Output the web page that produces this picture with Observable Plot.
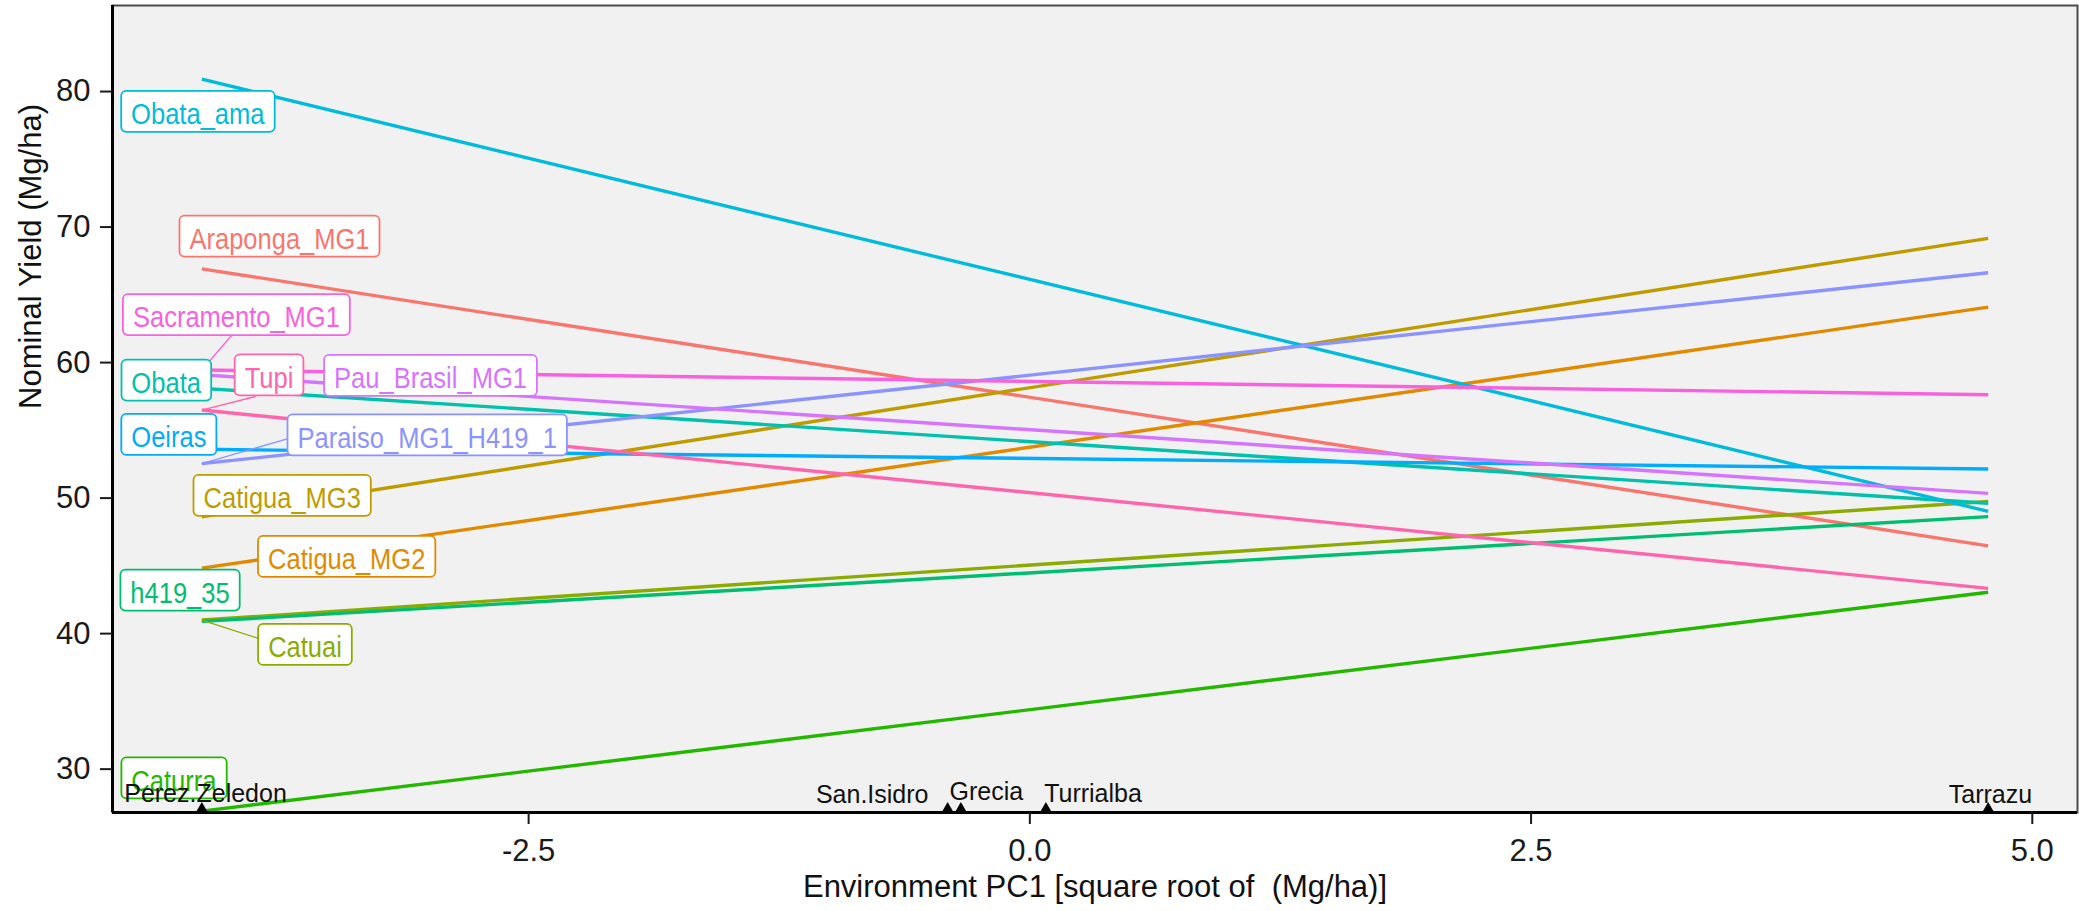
<!DOCTYPE html>
<html>
<head>
<meta charset="utf-8">
<script src="https://cdn.jsdelivr.net/npm/d3@7"></script>
<script src="https://cdn.jsdelivr.net/npm/@observablehq/plot@0.6"></script>
<style>
html, body { margin: 0; padding: 0; background: #fff; overflow: hidden; }
svg { display: block; }
svg text { white-space: pre; }
</style>
</head>
<body>
<script>
// ---------------- data ----------------
const genotypes = ["Araponga_MG1", "Catigua_MG2", "Catigua_MG3", "Catuai", "Caturra", "h419_35", "Obata",
  "Obata_ama", "Oeiras", "Paraiso_MG1_H419_1", "Pau_Brasil_MG1", "Sacramento_MG1", "Tupi"];
const colors = ["#F8766D", "#E18A00", "#BE9C00", "#8CAB00", "#24B700", "#00BE70", "#00C1AB",
  "#00BBDA", "#00ACFC", "#8B93FF", "#D575FE", "#F962DD", "#FF65AC"];
// nominal yield at the two extreme environments (Perez.Zeledon = lowest PC1, Tarrazu = highest PC1)
const yieldAtPerezZeledon = [66.92, 44.83, 48.62, 41.0, 26.9, 40.9, 58.1, 80.92, 53.6, 52.54, 59.1, 59.45, 56.5];
const yieldAtTarrazu      = [46.47, 64.09, 69.17, 49.75, 43.05, 48.63, 49.62, 49.02, 52.15, 66.63, 50.35, 57.63, 43.34];
const environments = ["Perez.Zeledon", "San.Isidro", "Grecia", "Turrialba", "Tarrazu"];
const envPC1 = [-4.13, -0.41, -0.344, 0.08, 4.78];
const xTicks = [-2.5, 0, 2.5, 5];
const yTicks = [30, 40, 50, 60, 70, 80];
const xTitle = "Environment PC1 [square root of  (Mg/ha)]";
const yTitle = "Nominal Yield (Mg/ha)";

// ---------------- layout (pixels) ----------------
const W = 2079, H = 911;
const mL = 112, mR = 2, mT = 5, mB = 99;
const xDomain = [-4.5755, 5.2255];
const yDomain = [26.8, 86.35];
const px2x = d3.scaleLinear([mL, W - mR], xDomain);
const px2y = d3.scaleLinear([H - mB, mT], yDomain);
// centre of each repelled label box, in genotype order
const labelBoxPx = [[279, 235.8], [346.2, 556], [281.7, 494.9], [304.5, 644], [173.4, 777.5], [179.5, 589.7],
  [165.7, 379.7], [197.3, 110.9], [168.4, 434], [426.7, 434.5], [430, 375], [235.9, 314.2], [268.5, 374.5]];
// leader segments end points (others are too short to be drawn)
const leaderEndPx = {"Sacramento_MG1": [232, 334], "Tupi": [255, 396], "Paraiso_MG1_H419_1": [286.7, 438.3], "Catuai": [259.3, 638.3]};
// environment label centres
const envLabelPx = [[205, 793], [871.7, 794.7], [985.8, 791.3], [1092.5, 793.7], [1990, 794]];

// ---------------- tables ----------------
const lineRows = genotypes.flatMap((g, i) => [
  {genotype: g, pc1: envPC1[0], yield: yieldAtPerezZeledon[i]},
  {genotype: g, pc1: envPC1[envPC1.length - 1], yield: yieldAtTarrazu[i]}
]);
const labelRows = genotypes.map((g, i) => ({genotype: g, x: px2x(labelBoxPx[i][0]), y: px2y(labelBoxPx[i][1] + 3.1)}));
const leaderRows = genotypes.map((g, i) => ({genotype: g, i})).filter(d => leaderEndPx[d.genotype]).map(d => ({
  genotype: d.genotype, x1: envPC1[0], y1: yieldAtPerezZeledon[d.i],
  x2: px2x(leaderEndPx[d.genotype][0]), y2: px2y(leaderEndPx[d.genotype][1])
}));
const envRows = environments.map((e, i) => ({env: e, pc1: envPC1[i], lx: px2x(envLabelPx[i][0]), ly: px2y(envLabelPx[i][1])}));

const chart = Plot.plot({
  width: W, height: H,
  marginLeft: mL, marginRight: mR, marginTop: mT, marginBottom: mB,
  style: {fontFamily: "'Liberation Sans', Arial, sans-serif", background: "#fff", overflow: "visible"},
  x: {domain: xDomain},
  y: {domain: yDomain},
  color: {domain: genotypes, range: colors},
  marks: [
    Plot.frame({fill: "#F1F1F1"}),
    Plot.line(lineRows, {x: "pc1", y: "yield", z: "genotype", stroke: "genotype", strokeWidth: 3.4, strokeLinecap: "butt"}),
    Plot.link(leaderRows, {x1: "x1", y1: "y1", x2: "x2", y2: "y2", stroke: "genotype", strokeWidth: 1.3}),
    Plot.text(labelRows, {x: "x", y: "y", text: "genotype", fill: "genotype", fontSize: 30, ariaDescription: "genotype labels"}),
    Plot.dot(envRows, {x: "pc1", y: () => yDomain[0], symbol: "triangle", r: 4.5, fill: "#000", stroke: null, dy: -3.5}),
    Plot.text(envRows, {x: "lx", y: "ly", text: "env", fill: "#111", fontSize: 25}),
    Plot.frame({stroke: "#4a4a4a", strokeWidth: 2}),
    Plot.ruleX([xDomain[0]], {stroke: "#000", strokeWidth: 3}),
    Plot.ruleY([yDomain[0]], {stroke: "#000", strokeWidth: 3}),
    Plot.axisY({ticks: yTicks, tickSize: 12, tickPadding: 10, fontSize: 31, color: "#1a1a1a", strokeWidth: 2, label: null}),
    Plot.axisX({ticks: xTicks, tickFormat: d => d.toFixed(1), tickSize: 12, tickPadding: 14, fontSize: 31, color: "#1a1a1a", strokeWidth: 2, label: null}),
    Plot.text([yTitle], {text: d => d, frameAnchor: "left", dx: -81, rotate: -90, fontSize: 31, fill: "#111"}),
    Plot.text([xTitle], {text: d => d, frameAnchor: "bottom", dy: 84, fontSize: 31, fill: "#111"})
  ]
});
document.body.append(chart);

// white rounded label boxes behind the genotype labels (ggrepel style)
let groups = [...chart.querySelectorAll('g[aria-description="genotype labels"]')];
if (!groups.length) groups = [...chart.querySelectorAll("g")].filter(g => g.getAttribute("font-size") === "30");
groups.forEach(g => g.querySelectorAll("text").forEach(t => {
  const bb = t.getBBox();
  const w = bb.width * 0.85;
  const cx = bb.x + bb.width / 2;
  const cy = bb.y + bb.height / 2 - 2.3;
  t.setAttribute("textLength", w.toFixed(1));
  t.setAttribute("lengthAdjust", "spacingAndGlyphs");
  const r = document.createElementNS("http://www.w3.org/2000/svg", "rect");
  r.setAttribute("x", (cx - w / 2 - 10).toFixed(1));
  r.setAttribute("y", (cy - 20.5).toFixed(1));
  r.setAttribute("width", (w + 20).toFixed(1));
  r.setAttribute("height", 41);
  r.setAttribute("rx", 5);
  r.setAttribute("fill", "#fff");
  r.setAttribute("stroke", t.getAttribute("fill"));
  r.setAttribute("stroke-width", 1.8);
  if (t.getAttribute("transform")) r.setAttribute("transform", t.getAttribute("transform"));
  t.parentNode.insertBefore(r, t);
}));
</script>
</body>
</html>
